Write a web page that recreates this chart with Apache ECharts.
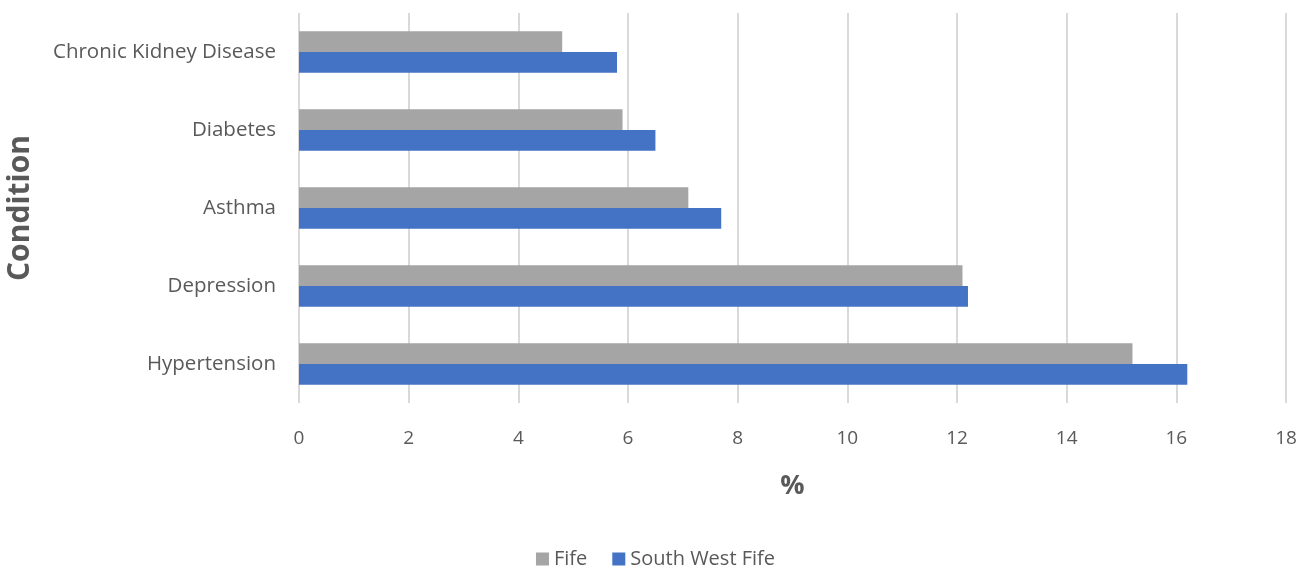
<!DOCTYPE html>
<html><head><meta charset="utf-8">
<script src="https://cdn.jsdelivr.net/npm/echarts@6/dist/echarts.min.js"></script>
<style>html,body{margin:0;padding:0;background:#fff}#c{width:1311px;height:567px}</style>
</head><body><div id="c"></div>
<script>
const categories = ['Hypertension','Depression','Asthma','Diabetes','Chronic Kidney Disease'];
const fife = [15.2, 12.1, 7.1, 5.9, 4.8];
const southWestFife = [16.2, 12.2, 7.7, 6.5, 5.8];
const xTicks = {min: 0, max: 18, interval: 2};

const chart = echarts.init(document.getElementById('c'));
const font = 'Open Sans';
chart.setOption({
  animation: false,
  textStyle: {fontFamily: font},
  grid: {left: 299, right: 25, top: 13, bottom: 164, containLabel: false, outerBoundsMode: 'none'},
  legend: {
    bottom: -7, left: 'center',
    data: ['Fife', 'South West Fife'],
    icon: 'rect', itemWidth: 13, itemHeight: 13, itemGap: 25,
    textStyle: {fontSize: 20, color: '#595959', fontFamily: font}
  },
  xAxis: {
    type: 'value', min: xTicks.min, max: xTicks.max, interval: xTicks.interval,
    name: '%', nameLocation: 'middle', nameGap: 70,
    nameTextStyle: {fontSize: 27, fontWeight: 'bold', color: '#595959', fontFamily: font},
    axisLabel: {fontSize: 19, color: '#595959', margin: 26},
    axisLine: {show: false}, axisTick: {show: false},
    splitLine: {lineStyle: {color: '#d9d9d9', width: 2}}
  },
  yAxis: {
    type: 'category', data: categories,
    name: 'Condition', nameLocation: 'middle', nameGap: 264, nameRotate: 90,
    nameTextStyle: {fontSize: 30, fontWeight: 'bold', color: '#595959', fontFamily: font},
    axisLabel: {fontSize: 20.5, color: '#595959', margin: 23, padding: [4, 0, 0, 0]},
    axisLine: {show: false}, axisTick: {show: false}, splitLine: {show: false}
  },
  series: [
    {name: 'Fife', type: 'bar', data: fife, itemStyle: {color: '#a5a5a5'}, barGap: '0%', barCategoryGap: '47%'},
    {name: 'South West Fife', type: 'bar', data: southWestFife, itemStyle: {color: '#4472c4'}, barGap: '0%', barCategoryGap: '47%'}
  ]
});
</script></body></html>
